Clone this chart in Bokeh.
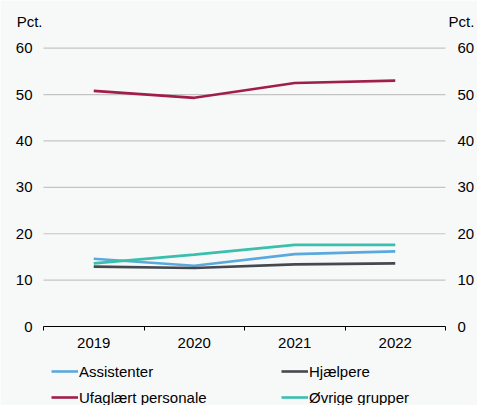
from bokeh.plotting import figure
from bokeh.models import (Range1d, FixedTicker, LinearAxis, Legend, LegendItem, Label)
from bokeh.embed import file_html
from bokeh.resources import INLINE

years = ["2019", "2020", "2021", "2022"]
assistenter = [14.6, 13.1, 15.6, 16.2]
hjaelpere = [12.9, 12.6, 13.4, 13.6]
ufaglaert = [50.8, 49.3, 52.5, 53.0]
oevrige = [13.6, 15.5, 17.6, 17.6]
y_ticks = [0, 10, 20, 30, 40, 50, 60]
unit_label = "Pct."

series = [
    ("Assistenter", assistenter, "#5aa9dc"),
    ("Hjælpere", hjaelpere, "#45494f"),
    ("Ufaglært personale", ufaglaert, "#a11d4b"),
    ("Øvrige grupper", oevrige, "#3abfae"),
]

FONT = "Liberation Sans"
BG = "#f7f9f9"
W, H = 477, 405
# plot-area pixel geometry (layout, not data)
L, R, T, B = 43, 445, 47.7, 326

n = len(years)
ymax = y_ticks[-1]
sx = (R - L) / n
sy = (B - T) / ymax
x_range = Range1d(-L / sx, n + (W - R) / sx)
y_range = Range1d(-(H - B) / sy, ymax + T / sy)

xs = [i + 0.5 for i in range(n)]

p = figure(width=W, height=H, output_backend="svg", toolbar_location=None,
           x_range=x_range, y_range=y_range,
           min_border=0, min_border_left=0, min_border_right=0,
           min_border_top=0, min_border_bottom=0)
p.background_fill_color = BG
p.border_fill_color = BG
p.outline_line_color = None
p.grid.visible = False

# horizontal grid lines (between the two value axes)
p.segment(x0=[0] * (len(y_ticks) - 1), x1=[n] * (len(y_ticks) - 1),
          y0=y_ticks[1:], y1=y_ticks[1:], line_color="#c4c4c4", line_width=1.2)

renderers = {}
for name, vals, col in series:
    renderers[name] = p.line(xs, vals, line_color=col, line_width=2.6)

# x axis at y = 0
xa = p.xaxis[0]
xa.fixed_location = 0
xa.bounds = (0, n)
xa.ticker = FixedTicker(ticks=xs, minor_ticks=list(range(n + 1)))
xa.major_label_overrides = {x: y for x, y in zip(xs, years)}
xa.major_tick_line_color = None
xa.minor_tick_out = 4
xa.minor_tick_in = 0
xa.minor_tick_line_color = "#000000"
xa.axis_line_color = "#000000"
xa.major_label_text_font = FONT
xa.major_label_text_font_size = "15px"
xa.major_label_text_color = "#000000"
xa.major_label_standoff = 5

# value axes on both sides
ya = p.yaxis[0]
ya.fixed_location = 0
ra = LinearAxis(fixed_location=n)
p.add_layout(ra, "right")
for ax in (ya, ra):
    ax.ticker = FixedTicker(ticks=y_ticks)
    ax.bounds = (0, ymax)
    ax.axis_line_color = None
    ax.major_tick_line_color = None
    ax.minor_tick_line_color = None
    ax.major_label_text_font = FONT
    ax.major_label_text_font_size = "15px"
    ax.major_label_text_color = "#000000"
ya.major_label_standoff = 5
ra.major_label_standoff = 6

# unit labels above the value axes
p.add_layout(Label(x=0, y=ymax, text=unit_label, x_offset=-1, y_offset=27,
                   text_align="right", text_baseline="middle",
                   text_font=FONT, text_font_size="15px", text_color="#000000"))
p.add_layout(Label(x=n, y=ymax, text=unit_label, x_offset=3, y_offset=27,
                   text_align="left", text_baseline="middle",
                   text_font=FONT, text_font_size="15px", text_color="#000000"))

order = ["Assistenter", "Ufaglært personale", "Hjælpere", "Øvrige grupper"]
legend = Legend(items=[LegendItem(label=nm, renderers=[renderers[nm]]) for nm in order],
                nrows=2, location=(51, -2))
legend.background_fill_alpha = 0
legend.border_line_alpha = 0
legend.label_text_font = FONT
legend.label_text_font_size = "15px"
legend.label_text_color = "#000000"
legend.glyph_width = 27
legend.glyph_height = 20
legend.label_height = 20
legend.label_width = 196
legend.label_standoff = 1
legend.spacing = 6
legend.padding = 0
legend.margin = 0
p.add_layout(legend, "center")

open("out.html", "w").write(file_html(p, INLINE))
